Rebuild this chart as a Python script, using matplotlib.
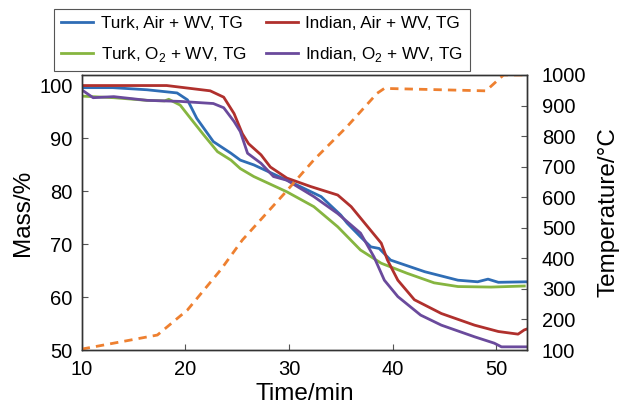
import matplotlib
matplotlib.use("Agg")
import matplotlib.pyplot as plt

plt.rcParams['font.family'] = ['Liberation Sans', 'DejaVu Sans']
plt.rcParams['mathtext.fontset'] = 'custom'
plt.rcParams['mathtext.rm'] = 'Liberation Sans'

# Time (min) / mass (%) for each series
turk_air_t = [10, 13, 16.3, 19.2, 20.2, 21.1, 22.7, 24.4, 25.3, 26.6, 29.8, 33.1, 35.0, 35.6, 36.9, 37.9, 38.7, 39.8, 43.1, 46.3, 48.2, 49.2, 50.2, 53]
turk_air_m = [99.6, 99.6, 99.2, 98.6, 97.3, 93.8, 89.4, 87.2, 85.9, 85.0, 82.1, 79.0, 75.5, 74.0, 71.4, 69.5, 69.2, 67.0, 64.8, 63.2, 62.9, 63.4, 62.8, 62.9]

indian_air_t = [10, 14, 18.2, 22.4, 23.7, 24.7, 25.5, 26.1, 27.3, 28.2, 29.8, 32.1, 34.7, 36.0, 37.3, 38.9, 39.5, 40.5, 42.1, 44.7, 47.9, 50.2, 52.1, 52.7, 53]
indian_air_m = [100.0, 100.0, 100.0, 99.0, 97.8, 94.7, 90.9, 89.0, 86.9, 84.6, 82.5, 80.9, 79.3, 77.1, 74.0, 70.2, 67.0, 63.2, 59.5, 56.9, 54.7, 53.5, 53.0, 53.8, 54.0]

turk_o2_t = [10, 13.1, 16.3, 18.0, 18.4, 19.5, 20.5, 21.8, 23.1, 24.4, 25.3, 26.6, 29.8, 32.4, 34.7, 36.9, 38.9, 41.4, 44.0, 46.3, 49.5, 52.7]
turk_o2_m = [98.0, 97.7, 97.2, 97.1, 97.4, 96.3, 93.8, 90.6, 87.5, 85.9, 84.3, 82.8, 79.9, 77.1, 73.3, 68.9, 66.4, 64.5, 62.7, 62.0, 61.9, 62.1]

indian_o2_t = [10, 11.1, 13.1, 16.3, 19.5, 22.7, 23.7, 24.7, 25.3, 26.0, 27.3, 28.5, 29.8, 32.4, 34.7, 36.9, 38.2, 39.2, 40.5, 42.7, 44.7, 47.9, 49.8, 50.5, 53]
indian_o2_m = [99.2, 97.7, 97.9, 97.2, 97.0, 96.6, 95.8, 93.2, 91.3, 87.2, 85.3, 82.8, 82.1, 79.0, 75.8, 72.1, 67.6, 63.2, 60.1, 56.6, 54.7, 52.5, 51.3, 50.6, 50.6]

# Temperature program (°C)
temp_t = [10, 17.3, 20.2, 23.4, 25.5, 29.5, 32.4, 35.6, 38.5, 39.2, 49.0, 50.7, 53]
temp_c = [103, 149, 231, 362, 460, 610, 722, 831, 940, 956, 948, 1000, 1000]

labels = ["Turk, Air + WV, TG", "Turk, O$_2$ + WV, TG",
          "Indian, Air + WV, TG", "Indian, O$_2$ + WV, TG"]
colors = ["#2f6db5", "#86b540", "#b0302d", "#6a4a9c"]

fig = plt.figure(figsize=(6.19, 4.13), dpi=100)
ax = fig.add_axes([0.132, 0.1525, 0.72, 0.666])

series = [(turk_air_t, turk_air_m), (turk_o2_t, turk_o2_m),
          (indian_air_t, indian_air_m), (indian_o2_t, indian_o2_m)]
handles = []
for (t, m), c, lab in zip(series, colors, labels):
    h, = ax.plot(t, m, color=c, lw=2.0, label=lab)
    handles.append(h)

ax.set_xlim(10, 53)
ax.set_ylim(50, 102)
ax.set_xticks([10, 20, 30, 40, 50])
ax.set_yticks([50, 60, 70, 80, 90, 100])
ax.tick_params(direction='in', labelsize=14.5, length=4, color='#555555')
ax.tick_params(axis='x', pad=7)
ax.tick_params(axis='y', pad=6.5)
ax.set_xlabel("Time/min", fontsize=17.5, labelpad=3)
ax.set_ylabel("Mass/%", fontsize=17.5, labelpad=4)

ax2 = ax.twinx()
ax2.plot(temp_t, temp_c, color="#ee8030", lw=2.0, ls=(0, (3, 2.2)))
ax2.set_ylim(100, 1000)
ax2.set_yticks(range(100, 1001, 100))
ax2.tick_params(direction='in', labelsize=14.5, length=4, color='#555555', pad=10.5)
ax2.set_ylabel("Temperature/°C", fontsize=17.5, labelpad=8)

for a in (ax, ax2):
    for s in a.spines.values():
        s.set_color('#333333')
        s.set_linewidth(1.0)

leg = ax.legend(handles=handles, ncol=2, loc='upper left',
                bbox_to_anchor=(-0.062, 1.24), borderaxespad=0,
                fontsize=12.3, frameon=True, fancybox=False,
                edgecolor='#555555', framealpha=1, columnspacing=1.15,
                handlelength=1.9, handletextpad=0.42, borderpad=0.4,
                labelspacing=0.85)
leg.get_frame().set_linewidth(0.8)
leg.set_zorder(10)

fig.savefig("out.png", dpi=100)
